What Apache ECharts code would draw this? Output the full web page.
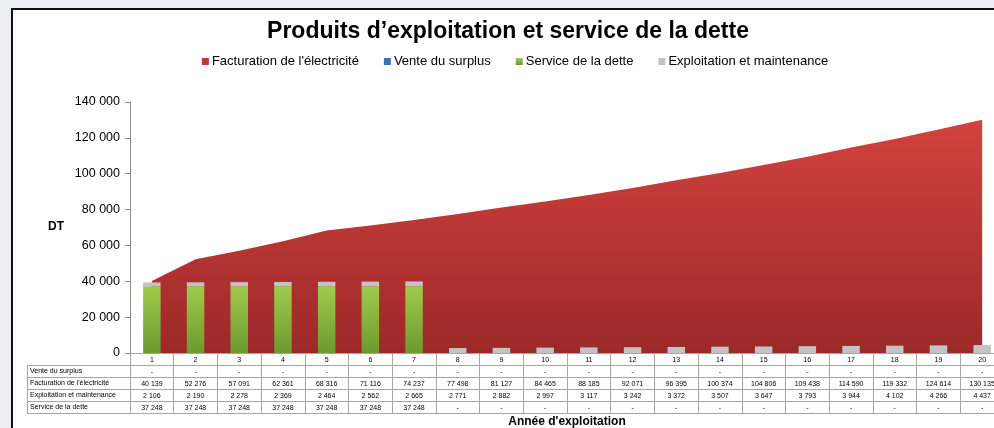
<!DOCTYPE html>
<html>
<head>
<meta charset="utf-8">
<script src="https://cdn.jsdelivr.net/npm/echarts@6/dist/echarts.min.js"></script>
<style>
  html, body { margin: 0; padding: 0; overflow: hidden; width: 994px; height: 428px; background: #eceef1; }
  .frame { position: absolute; left: 11px; top: 8px; width: 1040px; height: 450px; border: 2px solid #111; background: #fff; }
  .dette_echarts { position: absolute; left: 0; top: 0; width: 1030px; height: 428px; }
</style>
</head>
<body>
<div class="frame"></div>
<div class="dette_echarts"></div>
<script>
const annees = ['1','2','3','4','5','6','7','8','9','10','11','12','13','14','15','16','17','18','19','20']
const venteSurplus = ['-','-','-','-','-','-','-','-','-','-','-','-','-','-','-','-','-','-','-','-']
const facturation = [40139, 52276, 57091, 62361, 68316, 71116, 74237, 77498, 81127, 84465, 88185, 92071, 96395, 100374, 104806, 109438, 114590, 119332, 124614, 130135]
const exploitation = [2106, 2190, 2278, 2369, 2464, 2562, 2665, 2771, 2882, 2997, 3117, 3242, 3372, 3507, 3647, 3793, 3944, 4102, 4266, 4437]
const serviceDette = [37248, 37248, 37248, 37248, 37248, 37248, 37248, '-', '-', '-', '-', '-', '-', '-', '-', '-', '-', '-', '-', '-']
const rowLabels = ['Vente du surplus', "Facturation de l'électricité", 'Exploitation et maintenance', 'Service de la dette']

const fmt = v => (v === '-' ? '-' : String(v).replace(/\B(?=(\d{3})+(?!\d))/g, ' '))
const lineCol = '#a6a6a6'
const font = 'Liberation Sans, Arial, sans-serif'

const chartDom = document.querySelector('.dette_echarts')
const myChart = echarts.init(chartDom)

// un axe par ligne du tableau
function rowAxis(offset, values, showLabel) {
  return {
    type: 'category',
    position: 'bottom',
    offset: offset,
    data: values.map(fmt),
    axisLine: {show: true, lineStyle: {color: lineCol, width: 1}},
    axisTick: {show: true, length: 12, interval: 0, lineStyle: {color: lineCol}},
    axisLabel: {show: showLabel, interval: 0, margin: 4, fontSize: 7, color: '#000', fontFamily: font},
    splitLine: {show: false}
  }
}

const tableTop = 365
const rowH = 12
const tableGraphics = []
rowLabels.forEach((t, i) => {
  tableGraphics.push({
    type: 'text', left: 30, top: tableTop + i * rowH + 3,
    style: {text: t, fontSize: 7, fill: '#000', fontFamily: font}
  })
})
for (let i = 0; i <= rowLabels.length; i++) {
  tableGraphics.push({
    type: 'line', shape: {x1: 27, y1: tableTop + i * rowH + 0.5, x2: 130, y2: tableTop + i * rowH + 0.5},
    style: {stroke: lineCol, lineWidth: 1}
  })
}
tableGraphics.push({type: 'line', shape: {x1: 27.5, y1: tableTop, x2: 27.5, y2: tableTop + 4 * rowH}, style: {stroke: lineCol, lineWidth: 1}})
tableGraphics.push({type: 'text', left: 48, top: 221, style: {text: 'DT', fontSize: 12, fontWeight: 'bold', fill: '#000', fontFamily: font}})

const option = {
  animation: false,
  textStyle: {fontFamily: font},
  title: {
    text: 'Produits d’exploitation et service de la dette',
    left: 503, top: 15, textAlign: 'center',
    textStyle: {fontSize: 23, fontWeight: 'bold', color: '#000', fontFamily: font}
  },
  legend: {
    data: ["Facturation de l'électricité", 'Vente du surplus', 'Service de la dette', 'Exploitation et maintenance'],
    left: 'center', top: 50, padding: [5, 11, 5, 5],
    icon: 'rect', itemWidth: 7, itemHeight: 7, itemGap: 25,
    textStyle: {fontSize: 13, color: '#000', padding: [0, 0, 0, -2], fontFamily: font}
  },
  grid: {left: 130, right: 26, top: 102, bottom: 75, outerBoundsMode: 'none', containLabel: false},
  xAxis: [
    Object.assign(rowAxis(0, annees, true), {
      name: "Année d'exploitation", nameLocation: 'middle', nameGap: 63,
      nameTextStyle: {fontSize: 12, fontWeight: 'bold', color: '#000'}
    }),
    rowAxis(12, venteSurplus, true),
    rowAxis(24, facturation, true),
    rowAxis(36, exploitation, true),
    rowAxis(48, serviceDette, true),
    Object.assign(rowAxis(60, annees, false), {axisTick: {show: false}})
  ],
  yAxis: {
    type: 'value', min: 0, max: 140000, interval: 20000,
    axisLine: {show: true, lineStyle: {color: '#8c8c8c'}},
    axisTick: {show: true, length: 5, lineStyle: {color: '#8c8c8c'}},
    axisLabel: {formatter: fmt, fontSize: 12.5, color: '#000', margin: 10},
    splitLine: {show: false}
  },
  graphic: tableGraphics,
  series: [
    {
      name: "Facturation de l'électricité",
      type: 'line', z: 1,
      data: facturation,
      showSymbol: false,
      lineStyle: {width: 0},
      itemStyle: {color: '#c0353a'},
      areaStyle: {
        opacity: 1,
        color: new echarts.graphic.LinearGradient(0, 0, 0, 1, [
          {offset: 0, color: '#d3423e'},
          {offset: 1, color: '#9c2929'}
        ])
      }
    },
    {
      name: 'Vente du surplus',
      type: 'bar', stack: 'dette', barWidth: '40%', z: 5,
      data: venteSurplus,
      itemStyle: {color: '#3e6fb5'}
    },
    {
      name: 'Service de la dette',
      type: 'bar', stack: 'dette', barWidth: '40%', z: 5,
      data: serviceDette,
      itemStyle: {
        color: new echarts.graphic.LinearGradient(0, 0, 0, 1, [
          {offset: 0, color: '#9fcb4d'},
          {offset: 1, color: '#6c9a2f'}
        ])
      }
    },
    {
      name: 'Exploitation et maintenance',
      type: 'bar', stack: 'dette', barWidth: '40%', z: 5,
      data: exploitation,
      itemStyle: {color: '#c3c3c3'}
    }
  ]
}

option && myChart.setOption(option)
</script>
</body>
</html>
